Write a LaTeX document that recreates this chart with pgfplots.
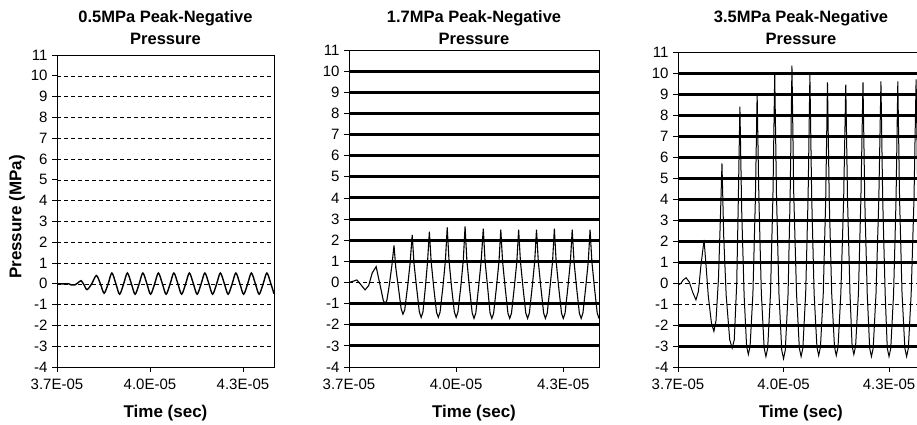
\documentclass[border=0pt]{standalone}
\usepackage{fontspec}
\setmainfont{Liberation Sans}
\usepackage{pgfplots}
\pgfplotsset{compat=1.18}
\begin{document}
\begin{tikzpicture}[x=1pt,y=1pt]
\useasboundingbox (0,0) rectangle (917,-424);
\pgfplotsset{
 base/.style={
   scale only axis, anchor=south west,
   xmin=3.7, ymin=-4, ymax=11,
   xtick={3.7,4.0,4.3}, xticklabels={3.7E-05,4.0E-05,4.3E-05},
   ytick={-4,...,11}, yticklabels={-4,-3,-2,-1,0,1,2,3,4,5,6,7,8,9,10,11},
   tick align=outside, major tick length=5pt,
   xtick pos=bottom, ytick pos=left,
   tick style={black, line width=0.8pt},
   axis line style={black, line width=1pt},
   ticklabel style={font=\fontsize{15}{17}\selectfont},
   xticklabel style={yshift=-3pt},
   yticklabel style={xshift=-1pt},
   ymajorgrids,
   major grid style={black, line width=0.6pt, dash pattern=on 4pt off 3pt},
   clip=true,
 },
 thick grid/.style={extra y ticks={#1}, extra y tick labels={},
   extra y tick style={grid=major, major grid style={black, solid, line width=3pt}}},
 wave/.style={black, line width=1pt, mark=none},
}
% ---------- Panel 1 ----------
\begin{axis}[base, at={(57pt,-367pt)}, width=217pt, height=312pt, xmax=4.40]
\addplot[wave, line width=1.4pt, smooth, tension=0.5] coordinates {
(3.700,0) (3.720,0) (3.738,0) (3.745,-0.05) (3.758,-0.05) (3.768,0.05) (3.778,0.15)
(3.787,-0.05) (3.797,-0.28) (3.812,0.0) (3.827,0.40) (3.840,0.0) (3.852,-0.45)
(3.865,0.0) (3.877,0.52) (3.890,0) (3.902,-0.50) (3.915,0) (3.927,0.52) (3.940,0)
(3.952,-0.50) (3.965,0) (3.977,0.52) (3.990,0) (4.002,-0.50) (4.015,0) (4.027,0.52)
(4.040,0) (4.052,-0.50) (4.065,0) (4.077,0.52) (4.090,0) (4.102,-0.50) (4.115,0)
(4.127,0.52) (4.140,0) (4.152,-0.50) (4.165,0) (4.177,0.52) (4.190,0) (4.202,-0.50)
(4.215,0) (4.227,0.52) (4.240,0) (4.252,-0.50) (4.265,0) (4.277,0.52) (4.290,0)
(4.302,-0.50) (4.315,0) (4.327,0.52) (4.340,0) (4.352,-0.50) (4.365,0) (4.377,0.52)
(4.390,0) (4.400,-0.48)
};
\end{axis}
% ---------- Panel 2 ----------
\begin{axis}[base, at={(349pt,-367pt)}, width=250pt, height=317pt, xmax=4.40,
  thick grid={-3,-2,-1,1,2,3,4,5,6,7,8,9,10}]
\addplot[wave, line width=1.1pt] coordinates {
(3.700,0.00) (3.710,0.05) (3.722,0.12) (3.733,-0.10) (3.745,-0.35) (3.755,-0.15)
(3.765,0.45) (3.776,0.75) (3.781,0.35) (3.788,-0.20) (3.796,-0.85) (3.801,-1.00)
(3.806,-0.85) (3.813,-0.10) (3.820,0.80) (3.826,1.75) (3.831,0.70) (3.838,-0.20)
(3.846,-1.25) (3.851,-1.50) (3.856,-1.30) (3.864,-0.20) (3.871,0.90) (3.877,2.25)
(3.882,0.90) (3.889,-0.20) (3.897,-1.40) (3.902,-1.65) (3.907,-1.40) (3.914,-0.20)
(3.920,1.00) (3.925,2.40) (3.930,1.00) (3.937,-0.20) (3.945,-1.40) (3.950,-1.65)
(3.955,-1.40) (3.963,-0.20) (3.970,1.05) (3.975,2.60) (3.980,1.05) (3.987,-0.20)
(3.995,-1.40) (4.000,-1.65) (4.005,-1.40) (4.013,-0.20) (4.020,1.05) (4.025,2.65)
(4.030,1.05) (4.037,-0.20) (4.045,-1.45) (4.050,-1.70) (4.055,-1.45) (4.063,-0.20)
(4.070,1.00) (4.076,2.55) (4.081,1.00) (4.088,-0.20) (4.095,-1.45) (4.100,-1.70)
(4.105,-1.45) (4.113,-0.20) (4.120,1.00) (4.125,2.50) (4.130,1.00) (4.137,-0.20)
(4.145,-1.45) (4.150,-1.70) (4.155,-1.45) (4.163,-0.20) (4.170,1.00) (4.175,2.50)
(4.180,1.00) (4.187,-0.20) (4.195,-1.45) (4.200,-1.70) (4.205,-1.45) (4.213,-0.20)
(4.220,1.00) (4.225,2.50) (4.230,1.00) (4.237,-0.20) (4.245,-1.45) (4.250,-1.70)
(4.255,-1.45) (4.263,-0.20) (4.270,1.00) (4.275,2.55) (4.280,1.00) (4.287,-0.20)
(4.295,-1.45) (4.300,-1.70) (4.305,-1.45) (4.313,-0.20) (4.320,1.00) (4.325,2.50)
(4.330,1.00) (4.337,-0.20) (4.345,-1.45) (4.350,-1.70) (4.355,-1.45) (4.363,-0.20)
(4.370,1.00) (4.375,2.50) (4.380,1.00) (4.387,-0.20) (4.395,-1.45) (4.400,-1.70)
};
\end{axis}
% ---------- Panel 3 ----------
\begin{axis}[base, at={(678pt,-367pt)}, width=239pt, height=315pt, xmax=4.3796,
  axis x line*=bottom, axis y line*=left,
  thick grid={-3,-2,1,2,3,4,5,6,7,8,9,10}]
\addplot[wave, line width=1pt] coordinates {
(3.700,-0.10) (3.708,-0.02) (3.715,0.15) (3.723,0.25) (3.732,0.05) (3.742,-0.45)
(3.751,-0.80) (3.758,-0.40) (3.765,0.80) (3.774,2.05) (3.779,1.00) (3.786,-0.60)
(3.795,-1.90) (3.802,-2.30) (3.808,-1.80) (3.815,0.20) (3.820,2.80) (3.825,5.70)
(3.830,2.20) (3.837,-0.60) (3.847,-2.70) (3.854,-3.10) (3.860,-2.70) (3.867,0.00)
(3.871,3.50) (3.876,8.40) (3.881,3.50) (3.888,-0.60) (3.895,-3.00) (3.900,-3.40)
(3.905,-3.00) (3.913,-0.50) (3.920,4.00) (3.925,9.00) (3.930,4.00) (3.937,-0.50)
(3.945,-3.10) (3.950,-3.50) (3.955,-3.10) (3.963,-0.50) (3.970,4.20) (3.975,10.00)
(3.980,4.20) (3.987,-0.50) (3.995,-3.20) (4.000,-3.60) (4.005,-3.20) (4.013,-0.50)
(4.019,4.30) (4.024,10.35) (4.029,4.30) (4.037,-0.50) (4.045,-3.10) (4.050,-3.50)
(4.055,-3.10) (4.063,-0.50) (4.070,4.20) (4.075,9.90) (4.080,4.20) (4.087,-0.50)
(4.095,-3.05) (4.100,-3.45) (4.105,-3.05) (4.113,-0.50) (4.120,4.00) (4.125,9.55)
(4.130,4.00) (4.137,-0.50) (4.145,-3.05) (4.150,-3.45) (4.155,-3.05) (4.163,-0.50)
(4.171,4.00) (4.177,9.45) (4.182,4.00) (4.189,-0.50) (4.195,-3.00) (4.200,-3.40)
(4.205,-3.00) (4.213,-0.50) (4.220,4.00) (4.226,9.55) (4.231,4.00) (4.238,-0.50)
(4.245,-3.10) (4.250,-3.50) (4.255,-3.10) (4.263,-0.50) (4.271,4.00) (4.277,9.60)
(4.282,4.00) (4.289,-0.50) (4.295,-3.10) (4.300,-3.50) (4.305,-3.10) (4.313,-0.50)
(4.320,4.00) (4.325,9.60) (4.330,4.00) (4.337,-0.50) (4.345,-3.10) (4.350,-3.50)
(4.355,-3.10) (4.363,-0.50) (4.371,4.00) (4.377,9.70) (4.382,4.00) (4.389,-0.50)
(4.395,-3.10) (4.400,-3.50)
};
\draw[black, line width=1pt] (rel axis cs:0,1) -- (rel axis cs:1,1);
\end{axis}
% ---------- Titles and labels ----------
\tikzset{ttl/.style={font=\bfseries\fontsize{16.5}{22}\selectfont, align=center},
         lbl/.style={font=\bfseries\fontsize{17}{19}\selectfont}}
\node[ttl] at (165.5,-28) {0.5MPa Peak-Negative\\Pressure};
\node[ttl] at (474,-28) {1.7MPa Peak-Negative\\Pressure};
\node[ttl] at (801,-28) {3.5MPa Peak-Negative\\Pressure};
\node[lbl] at (165.5,-413) {Time (sec)};
\node[lbl] at (474,-413) {Time (sec)};
\node[lbl] at (801,-413) {Time (sec)};
\node[lbl, rotate=90] at (17,-217) {Pressure (MPa)};
\end{tikzpicture}
\end{document}
